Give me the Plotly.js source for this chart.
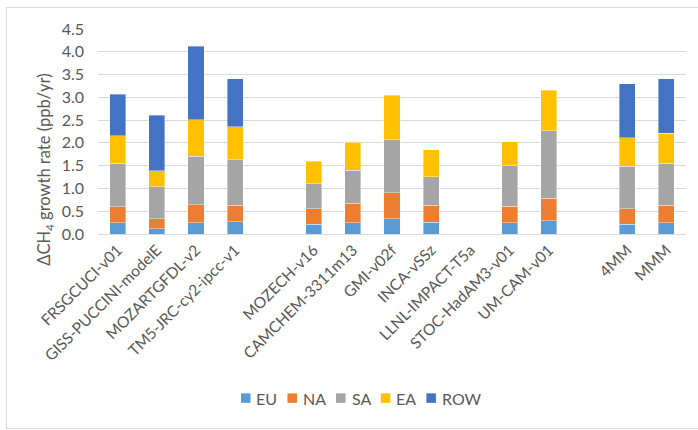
<!DOCTYPE html>
<html>
<head>
<meta charset="utf-8">
<script src="https://cdn.plot.ly/plotly-3.0.1.min.js"></script>
<style>
  html, body { margin: 0; padding: 0; background: #fff; overflow: hidden; }
  #frame {
    position: absolute; left: 6px; top: 7px;
    width: 700px; height: 420px;
    border: 1px solid #d9d9d9; background: #fff;
  }
  #chart { width: 700px; height: 420px; }
</style>
</head>
<body>
<div id="frame"><div id="chart"></div></div>
<script>
// Model names along the x axis; empty entries leave a gap between groups
const categories = [
  'FRSGCUCI-v01', 'GISS-PUCCINI-modelE', 'MOZARTGFDL-v2', 'TM5-JRC-cy2-ipcc-v1', '',
  'MOZECH-v16', 'CAMCHEM-3311m13', 'GMI-v02f', 'INCA-vSSz', 'LLNL-IMPACT-T5a',
  'STOC-HadAM3-v01', 'UM-CAM-v01', '', '4MM', 'MMM'
];

// Regional contributions to the CH4 growth rate (ppb/yr)
const seriesNames = ['EU', 'NA', 'SA', 'EA', 'ROW'];
const EU  = [0.245, 0.12, 0.245, 0.27, null, 0.21, 0.245, 0.33, 0.26, null, 0.25, 0.29,  null, 0.215, 0.245];
const NA  = [0.355, 0.22, 0.395, 0.365, null, 0.34, 0.435, 0.58, 0.37, null, 0.36, 0.49,  null, 0.335, 0.385];
const SA  = [0.95,  0.70, 1.07,  1.00, null, 0.55, 0.72,  1.16, 0.63, null, 0.89, 1.49,  null, 0.94,  0.925];
const EA  = [0.61,  0.35, 0.80,  0.72, null, 0.50, 0.61,  0.98, 0.59, null, 0.52, 0.885, null, 0.62,  0.655];
const ROW = [0.91,  1.22, 1.61,  1.05, null, null, null,  null, null, null, null, null,  null, 1.19,  1.20];

const seriesValues = [EU, NA, SA, EA, ROW];
const seriesColors = ['#5B9BD5', '#ED7D31', '#A5A5A5', '#FFC000', '#4472C4'];

const yTickValues = [0, 0.5, 1, 1.5, 2, 2.5, 3, 3.5, 4, 4.5];

const FONT = 'Lato, "Liberation Sans", sans-serif';
const TEXT_COLOR = '#595959';
const W = 700, H = 420;
const M = { l: 91, r: 21, t: 21, b: 193.5 };
const plotW = W - M.l - M.r;
const plotH = H - M.t - M.b;

const xPos = categories.map((_, i) => i);
// only label positions that carry a model name
const labelled = xPos.filter(i => categories[i] !== '');

const traces = seriesNames.map((name, k) => ({
  type: 'bar',
  name: name,
  x: xPos,
  y: seriesValues[k],
  marker: { color: seriesColors[k], line: { color: 'rgba(255,255,255,0.55)', width: 0.7 } },
  hoverinfo: 'name+y',
  showlegend: false
}));

// Legend row laid out in pixels, then converted to paper coordinates
const legendFontSize = 16;
const ctx = document.createElement('canvas').getContext('2d');
ctx.font = legendFontSize + 'px ' + FONT;
const box = 9.5, boxGap = 4, itemGap = 12;
const widths = seriesNames.map(n => ctx.measureText(n).width);
let total = 0;
widths.forEach((w, i) => { total += box + boxGap + w + (i < widths.length - 1 ? itemGap : 0); });
const legendCenterPx = 353;
const legendYPx = 391;
const toPaperX = px => (px - M.l) / plotW;
const toPaperY = py => (M.t + plotH - py) / plotH;

const shapes = [];
const annotations = [];
let cursor = legendCenterPx - total / 2;
seriesNames.forEach((name, i) => {
  shapes.push({
    type: 'rect', xref: 'paper', yref: 'paper',
    xsizemode: 'pixel', ysizemode: 'pixel',
    xanchor: toPaperX(cursor), yanchor: toPaperY(legendYPx),
    x0: 0, x1: box, y0: -box / 2, y1: box / 2,
    fillcolor: seriesColors[i], line: { width: 0 }
  });
  annotations.push({
    xref: 'paper', yref: 'paper',
    x: toPaperX(cursor + box + boxGap), y: toPaperY(legendYPx),
    xanchor: 'left', yanchor: 'middle', showarrow: false,
    text: name, font: { family: FONT, size: legendFontSize, color: TEXT_COLOR }
  });
  cursor += box + boxGap + widths[i] + itemGap;
});

// Vertical axis title
annotations.push({
  xref: 'paper', yref: 'paper',
  x: toPaperX(38), y: toPaperY(162),
  xanchor: 'center', yanchor: 'middle', textangle: -90, showarrow: false,
  text: '\u0394CH<sub>4</sub> growth rate (ppb/yr)',
  font: { family: FONT, size: 16.5, color: TEXT_COLOR }
});

const layout = {
  width: W, height: H,
  margin: M,
  paper_bgcolor: '#ffffff', plot_bgcolor: '#ffffff',
  barmode: 'stack',
  bargap: 0.59,
  font: { family: FONT, color: TEXT_COLOR, size: 15 },
  xaxis: {
    range: [-0.5, categories.length - 0.5],
    tickmode: 'array',
    tickvals: labelled,
    ticktext: labelled.map(i => categories[i]),
    tickangle: -45,
    tickfont: { family: FONT, size: 15.5, color: TEXT_COLOR },
    showgrid: false, zeroline: false,
    showline: true, linecolor: '#d9d9d9', linewidth: 1,
    ticks: '', fixedrange: true
  },
  yaxis: {
    range: [0, 4.5],
    tickmode: 'array', tickvals: yTickValues,
    tickformat: '.1f',
    tickfont: { family: FONT, size: 16, color: TEXT_COLOR },
    ticklabelstandoff: 13,
    showgrid: true, gridcolor: '#d9d9d9', gridwidth: 1,
    zeroline: false, showline: false, ticks: '', fixedrange: true
  },
  shapes: shapes,
  annotations: annotations,
  showlegend: false
};

Plotly.newPlot('chart', traces, layout, { displayModeBar: false, staticPlot: true });
</script>
</body>
</html>
